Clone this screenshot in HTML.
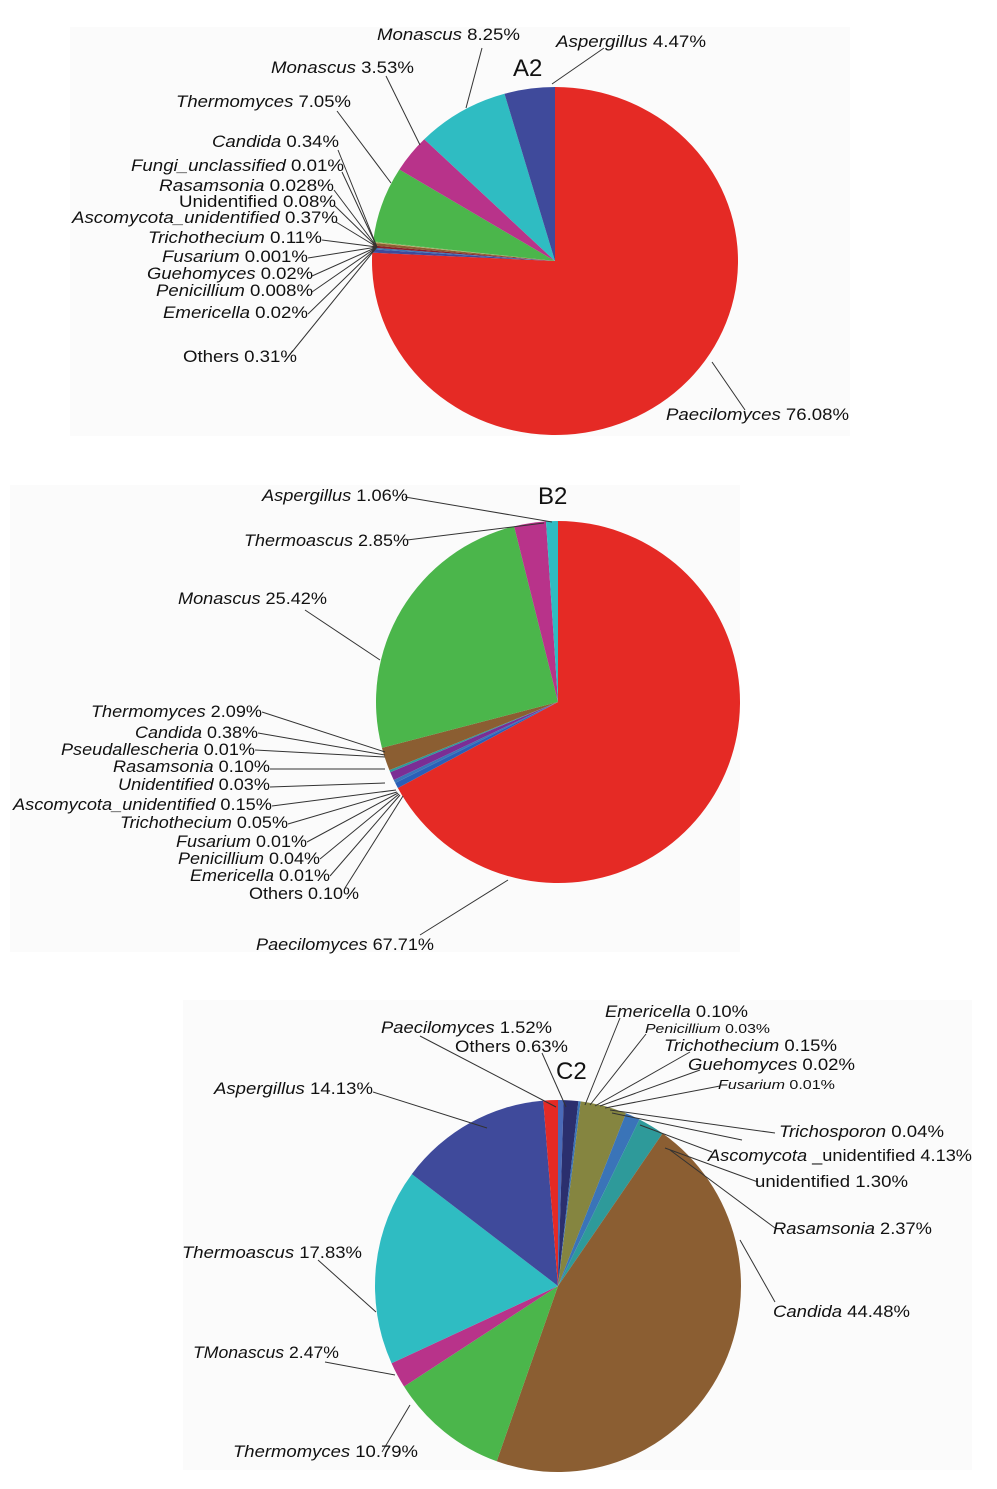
<!DOCTYPE html>
<html><head><meta charset="utf-8">
<style>
html,body{margin:0;padding:0;background:#fff;}
svg{display:block;}
text{font-family:"Liberation Sans",sans-serif;fill:#111;}
</style></head>
<body>
<svg id="s" width="997" height="1489" viewBox="0 0 997 1489" xmlns="http://www.w3.org/2000/svg">
<rect x="70" y="27" width="780" height="409" fill="#fbfbfb"/>
<rect x="10" y="485" width="730" height="467" fill="#fbfbfb"/>
<rect x="183" y="1000" width="789" height="470" fill="#fbfbfb"/>
<g id="pies"></g>
<g id="lines" stroke="#333" stroke-width="1" fill="none"></g>
<g id="labels"></g>
<text x="513" y="76" font-size="24">A2</text>
<text x="538" y="504" font-size="24">B2</text>
<text x="556" y="1079" font-size="24">C2</text>
</svg>
<script>
const NS="http://www.w3.org/2000/svg";
function el(t,a,p){const e=document.createElementNS(NS,t);for(const k in a)e.setAttribute(k,a[k]);document.getElementById(p).appendChild(e);return e;}
function pie(cx,cy,rx,ry,sl){
 let tot=sl.reduce((a,b)=>a+b[0],0),a=0;
 sl.forEach(([v,c])=>{
  const a0=a/tot*2*Math.PI; a+=v; const a1=a/tot*2*Math.PI;
  const x0=cx+rx*Math.sin(a0),y0=cy-ry*Math.cos(a0),x1=cx+rx*Math.sin(a1),y1=cy-ry*Math.cos(a1);
  const lg=(a1-a0)>Math.PI?1:0;
  el('path',{d:`M${cx},${cy}L${x0},${y0}A${rx},${ry} 0 ${lg} 1 ${x1},${y1}Z`,fill:c},'pies');
 });
}
const R="#e52a25",B="#3f4a9b",C="#2fbcc2",M="#b8338a",G="#4bb64b",BR="#8b5e32",OL="#858540",TE="#2e9a9a",SB="#3a74b8",DR="#8a1f2a",PU="#7b2e95";
pie(555,261,183,174,[[76.08,R],[0.31,B],[0.15,SB],[0.2,DR],[0.25,BR],[0.08,"#c0a060"],[0.05,G],[7.05,G],[3.53,M],[8.25,C],[4.47,B]]);
pie(558,702,182,181,[[67.71,R],[0.5,"#2a5fb8"],[0.3,SB],[0.75,PU],[0.2,TE],[2.09,BR],[25.42,G],[2.85,M],[1.06,C]]);
pie(558,1286,183,186,[[0.5,"#4a6ab8"],[1.3,"#2b2f6e"],[0.2,SB],[4.13,OL],[1.30,SB],[2.37,TE],[46.3,BR],[10.6,G],[2.3,M],[17.3,C],[13.6,B],[1.3,R]]);
function L(x1,y1,x2,y2){el('line',{x1,y1,x2,y2},'lines');}
function T(x1,x2,y,g,p,fs){fs=fs||17;const t=el('text',{x:x1,y:y,'font-size':fs,textLength:x2-x1,lengthAdjust:'spacingAndGlyphs'},'labels');
 if(g){const a=document.createElementNS(NS,'tspan');a.setAttribute('font-style','italic');a.textContent=g;t.appendChild(a);}
 const b=document.createElementNS(NS,'tspan');b.textContent=(g?' ':'')+p;t.appendChild(b);}
// A2
T(377,520,40,"Monascus","8.25%");T(556,706,47,"Aspergillus","4.47%");
T(271,414,73,"Monascus","3.53%");T(176,351,107,"Thermomyces","7.05%");
T(212,339,147,"Candida","0.34%");T(131,344,171,"Fungi_unclassified","0.01%");
T(159,334,191,"Rasamsonia","0.028%");T(179,336,207,"","Unidentified 0.08%");
T(72,338,223,"Ascomycota_unidentified","0.37%");T(148,322,243,"Trichothecium","0.11%");
T(162,308,262,"Fusarium","0.001%");T(147,313,279,"Guehomyces","0.02%");
T(156,313,296,"Penicillium","0.008%");T(163,308,318,"Emericella","0.02%");
T(183,297,362,"","Others 0.31%");T(666,849,420,"Paecilomyces","76.08%");
L(482,48,466,108);L(604,48,552,84);L(386,76,420,145);L(337,111,391,183);
[[338,150],[342,172],[334,190],[334,205],[336,222],[322,240],[308,258],[312,276],[312,292],[308,314],[292,352]].forEach(p=>L(p[0],p[1],377,247));
L(745,410,712,362);
// B2
T(262,408,501,"Aspergillus","1.06%");T(244,409,546,"Thermoascus","2.85%");
T(178,327,604,"Monascus","25.42%");T(91,262,717,"Thermomyces","2.09%");
T(135,258,738,"Candida","0.38%");T(61,255,755,"Pseudallescheria","0.01%");
T(113,270,772,"Rasamsonia","0.10%");T(118,270,790,"Unidentified","0.03%");
T(13,272,810,"Ascomycota_unidentified","0.15%");T(120,288,828,"Trichothecium","0.05%");
T(176,307,847,"Fusarium","0.01%");T(178,320,864,"Penicillium","0.04%");
T(190,330,881,"Emericella","0.01%");T(249,359,899,"","Others 0.10%");
T(256,434,950,"Paecilomyces","67.71%");
L(405,497,552,522);L(407,540,544,523);L(305,610,380,660);
L(262,712,385,752);L(258,733,385,755);L(255,750,385,757);L(270,769,385,769);L(270,787,385,783);
L(272,806,396,790);L(288,824,397,792);L(307,842,398,793);L(320,859,399,794);L(330,876,400,795);L(345,888,403,796);
L(420,935,508,880);
// C2
T(605,748,1017,"Emericella","0.10%");T(645,770,1033,"Penicillium","0.03%",13);
T(664,837,1051,"Trichothecium","0.15%");T(688,855,1070,"Guehomyces","0.02%");
T(718,835,1089,"Fusarium","0.01%",13);T(381,552,1033,"Paecilomyces","1.52%");
T(455,568,1052,"","Others 0.63%");T(214,373,1094,"Aspergillus","14.13%");
T(779,944,1137,"Trichosporon","0.04%");T(708,972,1161,"Ascomycota","_unidentified 4.13%");
T(755,908,1187,"","unidentified 1.30%");T(773,932,1234,"Rasamsonia","2.37%");
T(773,910,1317,"Candida","44.48%");T(182,362,1258,"Thermoascus","17.83%");
T(193,339,1358,"TMonascus","2.47%");T(233,418,1457,"Thermomyces","10.79%");
L(420,1036,556,1107);L(542,1053,566,1107);L(620,1018,585,1105);L(646,1034,590,1105);
L(690,1052,595,1106);L(700,1070,600,1106);L(720,1086,605,1108);L(775,1133,610,1110);
L(742,1140,612,1113);L(712,1152,640,1125);L(758,1182,665,1148);L(775,1228,670,1150);
L(775,1302,740,1240);L(373,1092,487,1128);L(318,1260,376,1312);L(325,1362,395,1375);L(382,1452,410,1405);
</script>
</body></html>
